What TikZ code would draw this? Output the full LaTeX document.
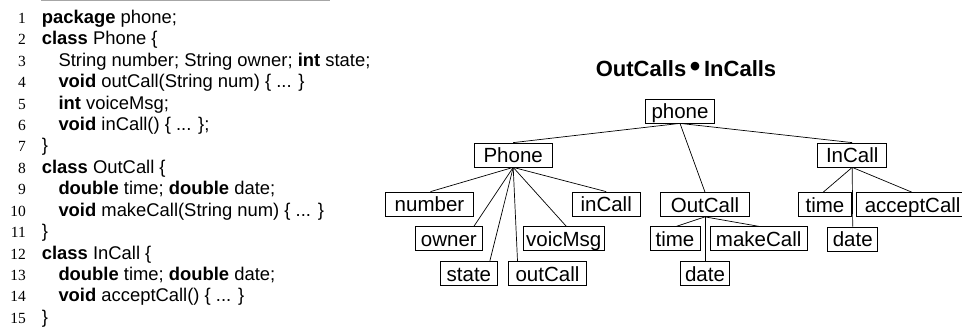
\documentclass[tikz,border=0pt]{standalone}
\usepackage{fontspec}
\setmainfont{Liberation Sans}
\newfontfamily\numfont{Liberation Serif}

\begin{document}
\begin{tikzpicture}[x=1pt,y=-1pt,
  codeline/.style={anchor=base west, inner sep=0pt, font=\fontsize{18.4}{20}\selectfont},
  lineno/.style={anchor=base east, inner sep=0pt, font=\numfont\fontsize{15.5}{20}\selectfont},
  treebox/.style={draw, line width=0.75pt, inner xsep=2pt, inner ysep=0pt,
    text height=20pt, text depth=4pt, font=\fontsize{20.5}{22}\selectfont},
  treeedge/.style={line width=0.7pt},
  rulestyle/.style={draw=black!35, line width=1pt}]
\useasboundingbox (0,0) rectangle (962,331);

% ---------- source listing ----------
\coordinate (ruleL) at (41,1);
\coordinate (ruleR) at (330,1);
\draw[rulestyle] (ruleL) -- (ruleR);

\def\xa{41.7}
\def\xb{58.3}
\def\xn{26}
\foreach \k in {1,...,15}{
  \node[lineno] (n\k) at (\xn,{23.3+21.43*(\k-1)}) {\k};
}
\node[codeline] (l1)  at (\xa,23.3)  {\textbf{package} phone;};
\node[codeline] (l2)  at (\xa,44.73) {\textbf{class} Phone \{};
\node[codeline] (l3)  at (\xb,66.16) {String number; String owner; \textbf{int} state;};
\node[codeline] (l4)  at (\xb,87.59) {\textbf{void} outCall(String num) \{ ... \}};
\node[codeline] (l5)  at (\xb,109.02) {\textbf{int} voiceMsg;};
\node[codeline] (l6)  at (\xb,130.45) {\textbf{void} inCall() \{ ... \};};
\node[codeline] (l7)  at (\xa,151.88) {\}};
\node[codeline] (l8)  at (\xa,173.31) {\textbf{class} OutCall \{};
\node[codeline] (l9)  at (\xb,194.74) {\textbf{double} time; \textbf{double} date;};
\node[codeline] (l10) at (\xb,216.17) {\textbf{void} makeCall(String num) \{ ... \}};
\node[codeline] (l11) at (\xa,237.6) {\}};
\node[codeline] (l12) at (\xa,259.03) {\textbf{class} InCall \{};
\node[codeline] (l13) at (\xb,280.46) {\textbf{double} time; \textbf{double} date;};
\node[codeline] (l14) at (\xb,301.89) {\textbf{void} acceptCall() \{ ... \}};
\node[codeline] (l15) at (\xa,323.32) {\}};

% ---------- title ----------
\node[anchor=base, inner sep=0pt, font=\bfseries\fontsize{22}{24}\selectfont] (title) at (686,76.7)
  {OutCalls\,{\fontsize{30}{30}\selectfont •}\,InCalls};

% ---------- tree ----------
\node[treebox, minimum width=68.6pt] (phone)    at (680,111)     {phone};
\node[treebox, minimum width=78.3pt] (Phone)    at (513.2,155)   {Phone};
\node[treebox, minimum width=69pt]   (InCall)   at (852.2,155)   {InCall};
\node[treebox, minimum width=87.6pt] (number)   at (429.5,204)   {number};
\node[treebox, minimum width=67.7pt] (inCall)   at (606.2,204)   {inCall};
\node[treebox, minimum width=88.6pt] (OutCall)  at (705,204.5)   {OutCall};
\node[treebox, minimum width=53.4pt] (timeI)    at (825,204.5)   {time};
\node[treebox, minimum width=112pt]  (accept)   at (912.7,204.5) {acceptCall};
\node[treebox, minimum width=66.3pt] (owner)    at (448.9,238.7) {owner};
\node[treebox, minimum width=81pt]   (voicMsg)  at (563.8,238.7) {voicMsg};
\node[treebox, minimum width=50pt]   (timeO)    at (675,238.7)   {time};
\node[treebox, minimum width=97.3pt] (makeCall) at (758.7,238.7) {makeCall};
\node[treebox, minimum width=50pt]   (dateI)    at (852.7,239)   {date};
\node[treebox, minimum width=57.7pt] (state)    at (468.9,273.2) {state};
\node[treebox, minimum width=78.4pt] (outCall)  at (547.5,273.2) {outCall};
\node[treebox, minimum width=48.6pt] (dateO)    at (705,273.5)   {date};

\draw[treeedge] (phone.south) -- (Phone.north);
\draw[treeedge] (phone.south) -- (OutCall.north);
\draw[treeedge] (phone.south) -- (InCall.north);

\draw[treeedge] (Phone.south) -- ([xshift=1pt]number.north);
\draw[treeedge] (Phone.south) -- ([xshift=25pt]owner.north);
\draw[treeedge] (Phone.south) -- ([xshift=21pt]state.north);
\draw[treeedge] (Phone.south) -- ([xshift=-30pt]outCall.north);
\draw[treeedge] (Phone.south) -- ([xshift=2.5pt]voicMsg.north);
\draw[treeedge] (Phone.south) -- (inCall.north);

\draw[treeedge] (OutCall.south) -- ([xshift=1.5pt]timeO.north);
\draw[treeedge] (OutCall.south) -- (makeCall.north);
\draw[treeedge] (OutCall.south) -- (dateO.north);

\draw[treeedge] (InCall.south) -- ([xshift=-1.7pt]timeI.north);
\draw[treeedge] (InCall.south) -- (dateI.north);
\draw[treeedge] (InCall.south) -- ([xshift=-1pt]accept.north);
\end{tikzpicture}
\end{document}
